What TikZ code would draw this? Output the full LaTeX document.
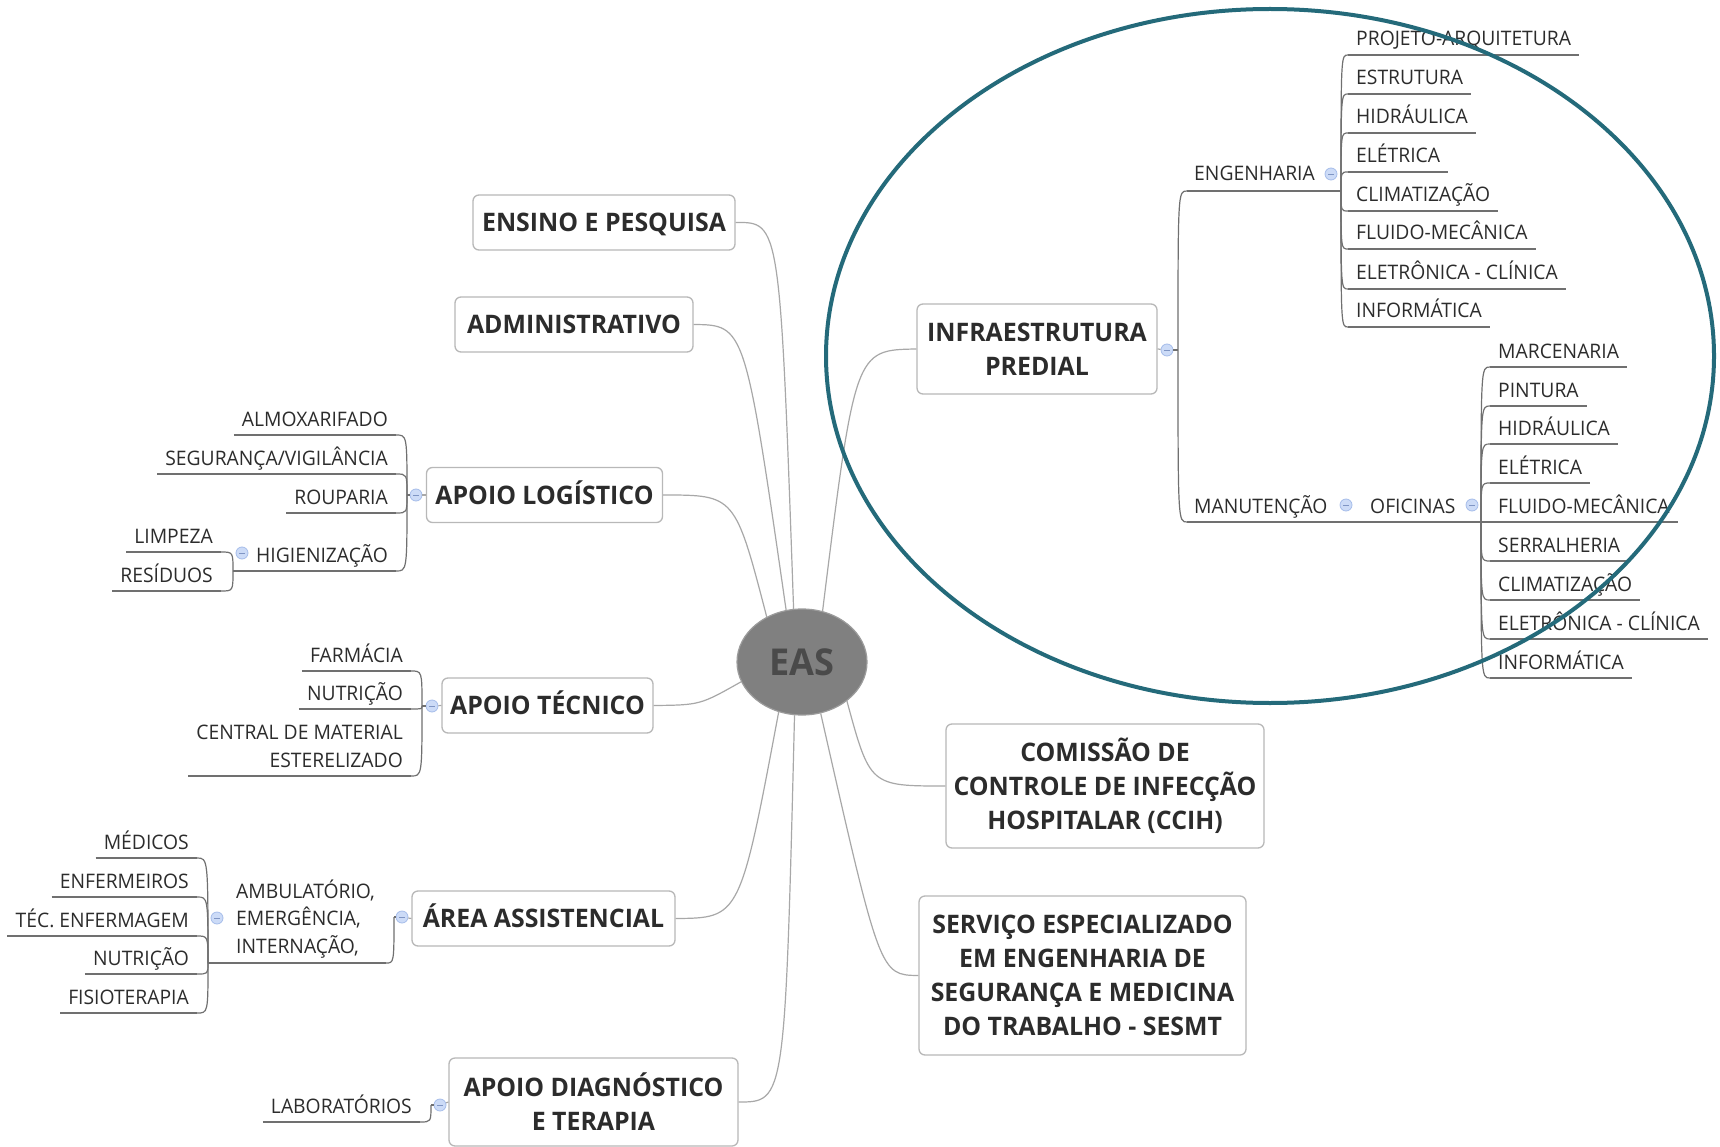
\documentclass[tikz,border=0pt]{standalone}
\usepackage{fontspec}
\setmainfont{Open Sans}[FakeStretch=0.975]
\newfontfamily\subfam{Open Sans}[FakeStretch=0.965]
\usetikzlibrary{shapes.geometric}
\definecolor{txtc}{HTML}{2C2C2C}
\definecolor{boxd}{HTML}{B8B8B8}
\definecolor{connc}{HTML}{A8A8A8}
\definecolor{ulc}{HTML}{707070}
\definecolor{easf}{HTML}{808080}
\definecolor{easd}{HTML}{9C9C9C}
\definecolor{eastx}{HTML}{4A4A4A}
\definecolor{tealc}{HTML}{246A7A}
\definecolor{mcf}{HTML}{CCDBF7}
\definecolor{mcd}{HTML}{A6BDEA}
\definecolor{mcm}{HTML}{7F95C4}
\newcommand\lsub[5]{%
  \node[subtxt, anchor=base east] (#1) at (#2, #3-9) {#5};
  \coordinate (#1-r) at (#2+8, #3);
  \coordinate (#1-l) at ([xshift=-8pt]#1.west |- #1-r);
  \draw[uline] (#1-l) -- (#1-r);
  \draw[uline] (#4) .. controls (#4 |- #1-r) .. (#1-r);
}
\newcommand\rsub[5]{%
  \node[subtxt, anchor=base west] (#1) at (#2, #3-9) {#5};
  \coordinate (#1-l) at (#2-8, #3);
  \coordinate (#1-r) at ([xshift=8pt]#1.east |- #1-l);
  \draw[uline] (#1-l) -- (#1-r);
  \draw[uline] (#4) .. controls (#4 |- #1-l) .. (#1-l);
}
\begin{document}
\begin{tikzpicture}[x=1pt,y=-1pt,
  box/.style={draw=boxd, line width=1.3pt, rounded corners=6pt, fill=white, inner sep=0pt,
    align=center, font=\bfseries\fontsize{25.5}{34}\selectfont, text=txtc},
  onel/.style={text height=18pt, text depth=0pt},
  subtxt/.style={inner sep=0pt, font=\subfam\fontsize{20}{27.5}\selectfont, text=txtc},
  conn/.style={draw=connc, line width=1.2pt},
  uline/.style={draw=ulc, line width=1.2pt},
  hlell/.style={ellipse, draw=tealc, line width=4pt, minimum width=888pt, minimum height=694pt, inner sep=0pt},
  mcirc/.style={circle, draw=mcd, fill=mcf, line width=0.8pt, minimum size=12pt, inner sep=0pt,
    path picture={\draw[mcm, line width=0.9pt] ([xshift=-3pt]path picture bounding box.center) -- ([xshift=3pt]path picture bounding box.center);}}
]
\fill[white] (0,0) rectangle (1720,1147);
\useasboundingbox (0,0) rectangle (1720,1147);

% central topic
\node[ellipse, fill=easf, draw=easd, line width=1.2pt, minimum width=130pt, minimum height=106pt,
  inner sep=0pt, font=\bfseries\fontsize{37}{40}\selectfont, text=eastx, text height=26pt, text depth=0pt]
  (eas) at (802,662) {EAS};

% main topics
\node[box, onel, minimum width=262pt, minimum height=55pt] (ensino) at (604,222.5) {ENSINO E PESQUISA};
\node[box, onel, minimum width=238pt, minimum height=55pt] (admin) at (574,324.5) {ADMINISTRATIVO};
\node[box, onel, minimum width=236pt, minimum height=55pt] (log) at (544.5,495) {APOIO LOGÍSTICO};
\node[box, onel, minimum width=211pt, minimum height=55pt] (tec) at (547.5,705.5) {APOIO TÉCNICO};
\node[box, onel, minimum width=263pt, minimum height=55pt] (area) at (543.5,918.5) {ÁREA ASSISTENCIAL};
\node[box, minimum width=289pt, minimum height=88pt] (diag) at (593.5,1102) {APOIO DIAGNÓSTICO\\E TERAPIA};
\node[box, minimum width=240pt, minimum height=90pt] (infra) at (1037,349) {INFRAESTRUTURA\\PREDIAL};
\node[box, minimum width=318pt, minimum height=124pt] (ccih) at (1105,786) {COMISSÃO DE\\CONTROLE DE INFECÇÃO\\HOSPITALAR (CCIH)};
\node[box, minimum width=327pt, minimum height=159pt] (sesmt) at (1082.5,975.5) {SERVIÇO ESPECIALIZADO\\EM ENGENHARIA DE\\SEGURANÇA E MEDICINA\\DO TRABALHO - SESMT};

% connectors from EAS
\draw[conn] (eas.99) .. controls (780,222) .. (ensino.east);
\draw[conn] (eas.107) .. controls (745,325) .. (admin.east);
\draw[conn] (eas.128) .. controls (735,495) .. (log.east);
\draw[conn] (eas.68) .. controls (855,350) .. (infra.west);
\draw[conn] (eas.198) .. controls (700,705) .. (tec.east);
\draw[conn] (eas.245) .. controls (740,918) .. (area.east);
\draw[conn] (eas.262) .. controls (785,1102) .. (diag.east);
\draw[conn] (eas.290) .. controls (880,975) .. (sesmt.west);
\draw[conn] (eas.319) .. controls (870,786) .. (ccih.west);

% APOIO LOGISTICO
\coordinate (plog) at (407,495);
\node[mcirc] (clog) at (416,495) {};
\draw[conn] (log.west) -- (clog);
\draw[uline] (clog) -- (plog);
\lsub{almox}{388}{435}{plog}{ALMOXARIFADO}
\lsub{segur}{388}{474}{plog}{SEGURANÇA/VIGILÂNCIA}
\lsub{roup}{388}{513}{plog}{ROUPARIA}
\node[subtxt, anchor=base east] (higien) at (388,562) {HIGIENIZAÇÃO};
\coordinate (higien-r) at (396,571);
\coordinate (higien-l) at (233,571);
\draw[uline] (higien-l) -- (higien-r);
\draw[uline] (plog) .. controls (plog |- higien-r) .. (higien-r);
\node[mcirc] (chig) at (242,553) {};
\lsub{limp}{213}{552}{higien-l}{LIMPEZA}
\lsub{resid}{213}{591}{higien-l}{RESÍDUOS}

% APOIO TECNICO
\coordinate (ptec) at (422,706);
\node[mcirc] (ctec) at (432,706) {};
\draw[conn] (tec.west) -- (ctec);
\draw[uline] (ctec) -- (ptec);
\lsub{farm}{403}{671}{ptec}{FARMÁCIA}
\lsub{nutr}{403}{709}{ptec}{NUTRIÇÃO}
\lsub{cme}{403}{776}{ptec}{\begin{tabular}[b]{@{}r@{}}CENTRAL DE MATERIAL\\ESTERELIZADO\end{tabular}}

% AREA ASSISTENCIAL
\coordinate (parea) at (394,917);
\node[mcirc] (carea) at (402,917) {};
\draw[conn] (area.west) -- (carea);
\draw[uline] (carea) -- (parea);
\node[subtxt, anchor=base west] (ambul) at (236,953) {\begin{tabular}[b]{@{}l@{}}AMBULATÓRIO,\\EMERGÊNCIA,\\INTERNAÇÃO,\end{tabular}};
\coordinate (ambul-r) at (386,963);
\coordinate (ambul-l) at (208,963);
\draw[uline] (ambul-l) -- (ambul-r);
\draw[uline] (parea) .. controls (parea |- ambul-r) .. (ambul-r);
\node[mcirc] (camb) at (217,918) {};
\lsub{med}{189}{858}{ambul-l}{MÉDICOS}
\lsub{enf}{189}{897}{ambul-l}{ENFERMEIROS}
\lsub{tecenf}{189}{936}{ambul-l}{TÉC. ENFERMAGEM}
\lsub{nutrb}{189}{974}{ambul-l}{NUTRIÇÃO}
\lsub{fisio}{189}{1013}{ambul-l}{FISIOTERAPIA}

% APOIO DIAGNOSTICO
\coordinate (pdiag) at (431,1105);
\node[mcirc] (cdiag) at (440,1105) {};
\draw[conn] (diag.west) -- (cdiag);
\draw[uline] (cdiag) -- (pdiag);
\lsub{lab}{412}{1122}{pdiag}{LABORATÓRIOS}

% INFRAESTRUTURA
\coordinate (pinfra) at (1178,350);
\node[mcirc] (cinfra) at (1167,350) {};
\draw[conn] (infra.east) -- (cinfra);
\draw[uline] (cinfra) -- (pinfra);
\node[subtxt, anchor=base west] (engen) at (1194,181) {ENGENHARIA};
\coordinate (engen-l) at (1187,191);
\coordinate (engen-r) at (1341,191);
\draw[uline] (engen-l) -- (engen-r);
\draw[uline] (pinfra) .. controls (pinfra |- engen-l) .. (engen-l);
\node[mcirc] (ceng) at (1331,174) {};
\rsub{proj}{1356}{55}{engen-r}{PROJETO-ARQUITETURA}
\rsub{estr}{1356}{94}{engen-r}{ESTRUTURA}
\rsub{hidra}{1356}{133}{engen-r}{HIDRÁULICA}
\rsub{eleta}{1356}{172}{engen-r}{ELÉTRICA}
\rsub{clima}{1356}{211}{engen-r}{CLIMATIZAÇÃO}
\rsub{fluida}{1356}{249}{engen-r}{FLUIDO-MECÂNICA}
\rsub{eletra}{1356}{289}{engen-r}{ELETRÔNICA - CLÍNICA}
\rsub{infoa}{1356}{327}{engen-r}{INFORMÁTICA}

\node[subtxt, anchor=base west] (manut) at (1194,513) {MANUTENÇÃO};
\coordinate (manut-l) at (1187,522);
\coordinate (manut-r) at (1355,522);
\draw[uline] (manut-l) -- (manut-r);
\draw[uline] (pinfra) .. controls (pinfra |- manut-l) .. (manut-l);
\node[mcirc] (cman) at (1346,505) {};
\node[subtxt, anchor=base west] (ofic) at (1370,513) {OFICINAS};
\coordinate (ofic-l) at (1363,522);
\coordinate (ofic-r) at (1481,522);
\draw[uline] (ofic-l) -- (ofic-r);
\draw[uline] (manut-r) -- (ofic-l);
\node[mcirc] (cofi) at (1472,505) {};
\rsub{marc}{1498}{367}{ofic-r}{MARCENARIA}
\rsub{pint}{1498}{406}{ofic-r}{PINTURA}
\rsub{hidrb}{1498}{444}{ofic-r}{HIDRÁULICA}
\rsub{eletb}{1498}{483}{ofic-r}{ELÉTRICA}
\rsub{fluidb}{1498}{522}{ofic-r}{FLUIDO-MECÂNICA}
\rsub{serr}{1498}{561}{ofic-r}{SERRALHERIA}
\rsub{climb}{1498}{600}{ofic-r}{CLIMATIZAÇÃO}
\rsub{eletrb}{1498}{639}{ofic-r}{ELETRÔNICA - CLÍNICA}
\rsub{infob}{1498}{678}{ofic-r}{INFORMÁTICA}

% highlight ellipse
\node[hlell] (hl) at (1270,356) {};
\end{tikzpicture}
\end{document}
